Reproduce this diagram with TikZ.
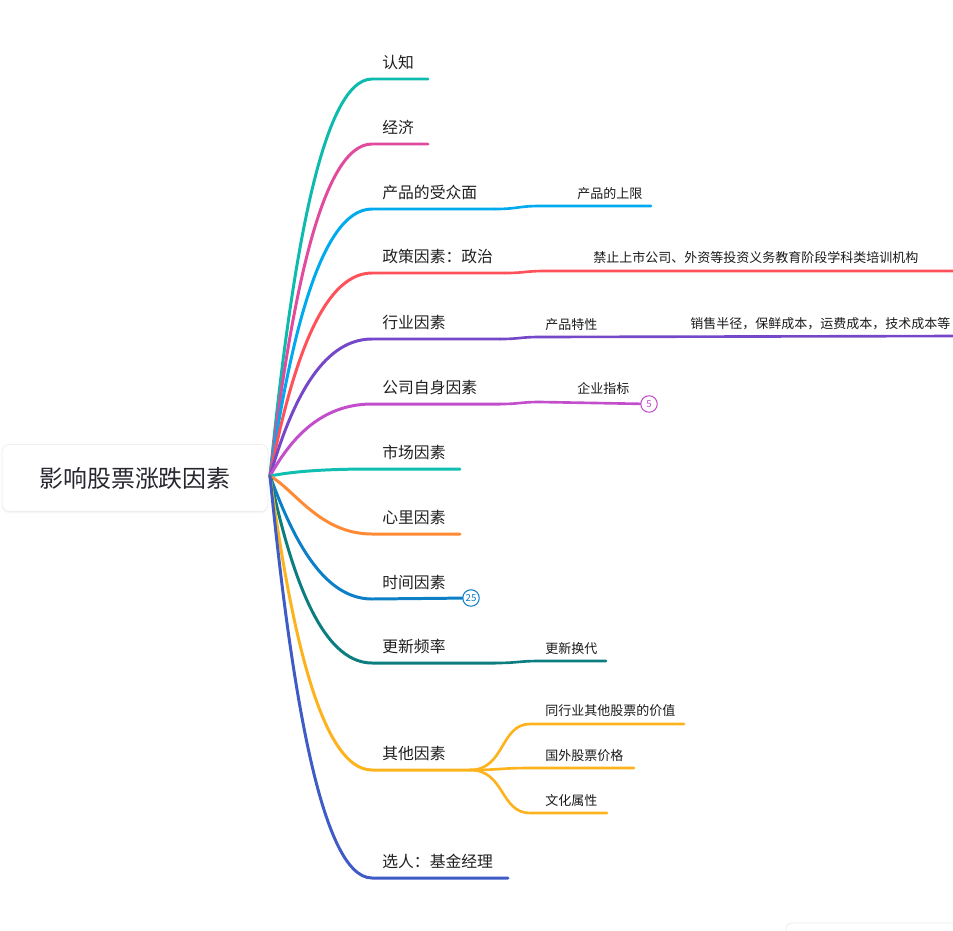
\documentclass[tikz,border=0pt]{standalone}
\usepackage{fontspec}
\setmainfont{Noto Sans CJK SC}
\usetikzlibrary{shadows}
\usepackage{xcolor}
\definecolor{cogn}{HTML}{0DBBAE}
\definecolor{econ}{HTML}{E14A9D}
\definecolor{aud}{HTML}{00AAEE}
\definecolor{policy}{HTML}{FF5159}
\definecolor{indus}{HTML}{7448C9}
\definecolor{firm}{HTML}{C24ECB}
\definecolor{market}{HTML}{10BFB1}
\definecolor{mood}{HTML}{FF8A33}
\definecolor{timec}{HTML}{0C7FC6}
\definecolor{renew}{HTML}{0D7E80}
\definecolor{other}{HTML}{FDB31E}
\definecolor{manager}{HTML}{3F5CC6}
\definecolor{ink}{HTML}{26262E}

\begin{document}
\begin{tikzpicture}[
  x=0.02cm, y=-0.02cm,
  root/.style={draw=black!7, fill=white, rounded corners=4pt, minimum width=5.32cm,
               minimum height=1.34cm, font=\fontsize{13.6}{16}\selectfont, text=ink,
               drop shadow={opacity=0.07, shadow xshift=0pt, shadow yshift=-1pt}},
  topic/.style={anchor=west, inner sep=0pt, font=\fontsize{9}{11}\selectfont, text=black!88},
  subtopic/.style={anchor=west, inner sep=0pt, font=\fontsize{7.4}{9}\selectfont, text=black!90},
  branch/.style={line width=1.7pt, line cap=round},
  twig/.style={line width=1.5pt, line cap=round},
  badge/.style={circle, draw=#1, text=#1, fill=white, line width=0.6pt, inner sep=0pt,
                minimum size=0.33cm, font=\fontsize{5.5}{6}\selectfont}
]
  \useasboundingbox (0,0) rectangle (953,930);
  \clip (0,0) rectangle (953,930);

  % panel corner, bottom right
  \draw[black!8, fill=white, rounded corners=3pt] (786,960) -- (786,923) -- (990,923);

  % Central topic
  \node[root] (root) at (135,478) {影响股票涨跌因素};
  \coordinate (hub) at (270,476);

  % Main topics
  \node[topic] (t1) at (382,62.5) {认知};
  \node[topic] (t2) at (382,127.5) {经济};
  \node[topic] (t3) at (382,192.5) {产品的受众面};
  \node[topic] (t4) at (382,256.5) {政策因素：政治};
  \node[topic] (t5) at (382,322.5) {行业因素};
  \node[topic] (t6) at (382,387.5) {公司自身因素};
  \node[topic] (t7) at (382,452.5) {市场因素};
  \node[topic] (t8) at (382,517.5) {心里因素};
  \node[topic] (t9) at (382,582.5) {时间因素};
  \node[topic] (t10) at (382,646.5) {更新频率};
  \node[topic] (t11) at (382,753.5) {其他因素};
  \node[topic] (t12) at (382,861.5) {选人：基金经理};

  % Sub topics
  \node[subtopic] (s3) at (577,193.5) {产品的上限};
  \node[subtopic] (s4) at (593,258) {禁止上市公司、外资等投资义务教育阶段学科类培训机构};
  \node[subtopic] (s5) at (545,324.5) {产品特性};
  \node[subtopic] (s5b) at (690,323.5) {销售半径，保鲜成本，运费成本，技术成本等};
  \node[subtopic] (s6) at (577,388.5) {企业指标};
  \node[subtopic] (s10) at (545,648.5) {更新换代};
  \node[subtopic] (s11a) at (545,711) {同行业其他股票的价值};
  \node[subtopic] (s11b) at (545,755.5) {国外股票价格};
  \node[subtopic] (s11c) at (545,800.5) {文化属性};

  % Badges
  \node[badge=firm] (n6) at (649,404) {5};
  \node[badge=timec] (n9) at (471,598) {25};

  % Branch ends
  \coordinate (b1) at (372,79);   \coordinate (e1) at (428,79);
  \coordinate (b2) at (372,144);  \coordinate (e2) at (428,144);
  \coordinate (b3) at (372,209);  \coordinate (m3) at (495,209);
  \coordinate (k3) at (540,206);  \coordinate (e3) at (651,206);
  \coordinate (b4) at (372,273);  \coordinate (m4) at (505,273);
  \coordinate (k4) at (545,271);  \coordinate (e4) at (960,271);
  \coordinate (b5) at (372,339);  \coordinate (m5) at (500,339);
  \coordinate (k5) at (540,337);  \coordinate (e5) at (960,336);
  \coordinate (b6) at (372,404);  \coordinate (m6) at (500,404);
  \coordinate (k6) at (540,402);
  \coordinate (b7) at (372,469);  \coordinate (e7) at (460,469);
  \coordinate (b8) at (372,534);  \coordinate (e8) at (460,534);
  \coordinate (b9) at (372,599);
  \coordinate (b10) at (372,663); \coordinate (m10) at (495,663);
  \coordinate (k10) at (540,661); \coordinate (e10) at (606,661);
  \coordinate (b11) at (372,770); \coordinate (m11) at (470,770);
  \coordinate (ka) at (530,724);  \coordinate (ea) at (684,724);
  \coordinate (kb) at (530,768);  \coordinate (eb) at (634,768);
  \coordinate (kc) at (530,813);  \coordinate (ec) at (607,813);
  \coordinate (b12) at (372,878); \coordinate (e12) at (508,878);

  % Connections
  \draw[branch, cogn] (hub) .. controls (290,277) and (320,79) .. (b1) -- (e1);
  \draw[branch, econ] (hub) .. controls (290,310) and (320,144) .. (b2) -- (e2);
  \draw[branch, aud] (hub) .. controls (290,342) and (320,209) .. (b3) -- (m3);
  \draw[twig, aud] (m3) .. controls (518,209) and (518,206) .. (k3) -- (e3);
  \draw[branch, policy] (hub) .. controls (290,374) and (320,273) .. (b4) -- (m4);
  \draw[twig, policy] (m4) .. controls (525,273) and (525,271) .. (k4) -- (e4);
  \draw[branch, indus] (hub) .. controls (290,407) and (320,339) .. (b5) -- (m5);
  \draw[twig, indus] (m5) .. controls (520,339) and (520,337) .. (k5) -- (e5);
  \draw[branch, firm] (hub) .. controls (290,440) and (320,404) .. (b6) -- (m6);
  \draw[twig, firm] (m6) .. controls (520,404) and (520,402) .. (k6) -- (n6);
  \draw[branch, market] (hub) .. controls (290,472) and (320,469) .. (b7) -- (e7);
  \draw[branch, mood] (hub) .. controls (295,490) and (320,534) .. (b8) -- (e8);
  \draw[branch, timec] (hub) .. controls (290,530) and (320,599) .. (b9) -- (n9);
  \draw[branch, renew] (hub) .. controls (290,570) and (320,663) .. (b10) -- (m10);
  \draw[twig, renew] (m10) .. controls (518,663) and (518,661) .. (k10) -- (e10);
  \draw[branch, other] (hub) .. controls (290,623) and (320,770) .. (b11) -- (m11);
  \draw[twig, other] (m11) .. controls (505,770) and (500,724) .. (ka) -- (ea);
  \draw[twig, other] (m11) .. controls (500,770) and (500,768) .. (kb) -- (eb);
  \draw[twig, other] (m11) .. controls (505,770) and (500,813) .. (kc) -- (ec);
  \draw[branch, manager] (hub) .. controls (290,677) and (320,878) .. (b12) -- (e12);
\end{tikzpicture}
\end{document}
